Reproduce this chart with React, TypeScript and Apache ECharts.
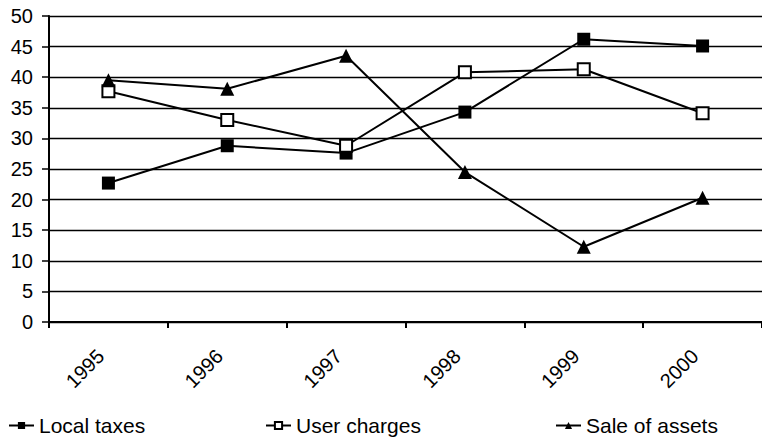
import React, { useEffect, useRef } from "react";
import * as echarts from "echarts";

const years = ["1995", "1996", "1997", "1998", "1999", "2000"];
const localTaxes = [22.7, 28.8, 27.6, 34.3, 46.2, 45.1];
const userCharges = [37.7, 33.0, 28.8, 40.8, 41.3, 34.1];
const saleOfAssets = [39.5, 38.1, 43.5, 24.5, 12.3, 20.3];

const FONT = "Liberation Sans";

export default function App() {
  const ref = useRef<HTMLDivElement>(null);
  useEffect(() => {
    if (!ref.current) return;
    const chart = echarts.init(ref.current, undefined, { renderer: "svg" });
    const mk = (name: string, data: number[], symbol: string, fill: string, size: number) => ({
      name,
      type: "line",
      data,
      symbol,
      symbolSize: size,
      showAllSymbol: true,
      lineStyle: { color: "#000", width: 2 },
      itemStyle: { color: fill, borderColor: "#000", borderWidth: symbol === "rect" && fill === "#fff" ? 2 : 0 },
      emphasis: { disabled: true },
    });
    const legendBase = {
      top: 410,
      itemWidth: 25,
      itemHeight: 9,
      itemGap: 0,
      textStyle: { fontFamily: FONT, fontSize: 21, color: "#000" },
      selectedMode: false,
    };
    chart.setOption({
      animation: false,
      backgroundColor: "#fff",
      grid: { left: 49, top: 16, bottom: 117, width: 720 },
      legend: [
        { ...legendBase, left: 3, data: ["Local taxes"] },
        { ...legendBase, left: 260, data: ["User charges"] },
        { ...legendBase, left: 550, data: ["Sale of assets"] },
      ],
      xAxis: {
        type: "category",
        data: years,
        boundaryGap: true,
        axisLine: { lineStyle: { color: "#000", width: 2 } },
        axisTick: { show: true, length: 6, lineStyle: { color: "#000", width: 2 } },
        axisLabel: { rotate: 45, fontFamily: FONT, fontSize: 20, color: "#000", margin: 23, padding: [0, 11, 0, 0] },
        splitLine: { show: false },
      },
      yAxis: {
        type: "value",
        min: 0,
        max: 50,
        interval: 5,
        axisLine: { show: true, lineStyle: { color: "#000", width: 2 } },
        axisTick: { show: true, length: 7, lineStyle: { color: "#000", width: 1.5 } },
        axisLabel: { fontFamily: FONT, fontSize: 20, color: "#000", margin: 16 },
        splitLine: { show: true, lineStyle: { color: "#000", width: 1.3 } },
      },
      series: [
        mk("Local taxes", localTaxes, "rect", "#000", 13),
        mk("User charges", userCharges, "rect", "#fff", 12),
        mk("Sale of assets", saleOfAssets, "triangle", "#000", 14),
      ],
    });
    return () => chart.dispose();
  }, []);
  return <div ref={ref} style={{ width: 762, height: 439, position: "absolute", left: 0, top: 0 }} />;
}
